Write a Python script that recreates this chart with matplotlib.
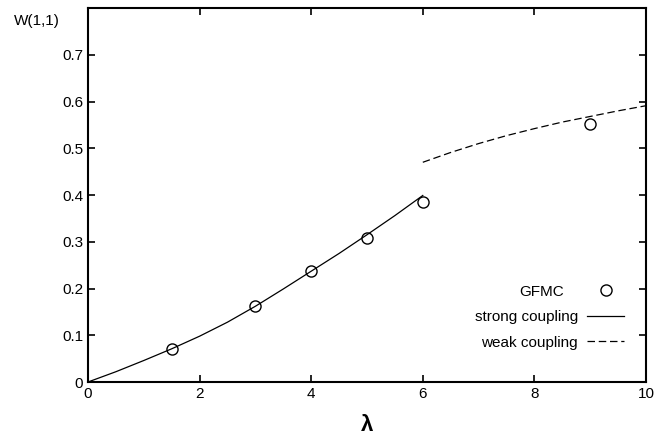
import numpy as np
import matplotlib
matplotlib.use("Agg")
import matplotlib.pyplot as plt
from matplotlib.lines import Line2D

# GFMC data points
gfmc_lam = [1.5, 3.0, 4.0, 5.0, 6.0, 9.0]
gfmc_w = [0.071, 0.163, 0.238, 0.309, 0.384, 0.551]

# strong coupling curve
strong_lam = [0.0, 0.5, 1.0, 1.5, 2.0, 2.5, 3.0, 3.5, 4.0, 4.5, 5.0, 5.5, 6.0]
strong_w = [0.0, 0.022, 0.046, 0.071, 0.098, 0.128, 0.162, 0.199, 0.237, 0.275, 0.315, 0.356, 0.399]

# weak coupling curve
weak_lam = [6.0, 6.5, 7.0, 7.5, 8.0, 8.5, 9.0, 9.5, 10.0]
weak_w = [0.470, 0.491, 0.510, 0.527, 0.542, 0.556, 0.568, 0.580, 0.591]

plt.rcParams["font.family"] = ["Liberation Sans", "DejaVu Sans"]
plt.rcParams["font.size"] = 11

fig = plt.figure(figsize=(6.69, 4.36), dpi=100)
ax = fig.add_axes([88/669, 54/436, 558/669, 374/436])

ax.plot(strong_lam, strong_w, color="black", lw=0.9)
ax.plot(weak_lam, weak_w, color="black", lw=0.9, dashes=(6, 3))
ax.plot(gfmc_lam, gfmc_w, "o", mfc="none", mec="black", ms=8, mew=1.0)

ax.set_xlim(0, 10)
ax.set_ylim(0, 0.8)
ax.set_xticks([0, 2, 4, 6, 8, 10])
ax.set_yticks([0, 0.1, 0.2, 0.3, 0.4, 0.5, 0.6, 0.7])
ax.set_yticklabels(["0", "0.1", "0.2", "0.3", "0.4", "0.5", "0.6", "0.7"])
ax.tick_params(direction="in", top=True, right=True, length=5, width=1.2, labelsize=11)
for s in ax.spines.values():
    s.set_linewidth(1.5)

ax.text(-0.05, 0.985, "W(1,1)", transform=ax.transAxes, ha="right", va="top", fontsize=11)
ax.set_xlabel("λ", fontsize=16, fontweight="bold", labelpad=10)

# legend drawn as text + sample marks
handles = [
    Line2D([], [], ls="none", marker="o", mfc="none", mec="black", ms=8, mew=1.0),
    Line2D([], [], color="black", lw=0.9),
    Line2D([], [], color="black", lw=0.9, dashes=(6, 3)),
]
labels = ["GFMC", "strong coupling", "weak coupling"]
leg = ax.legend(handles, labels, loc="lower right", bbox_to_anchor=(0.985, 0.05),
                frameon=False, markerfirst=False, fontsize=11,
                handlelength=2.4, labelspacing=0.75, handletextpad=0.6)
for t in leg.get_texts():
    t.set_ha("right")
leg.get_texts()[0].set_position((-14, 0))

fig.savefig("out.png", dpi=100)
